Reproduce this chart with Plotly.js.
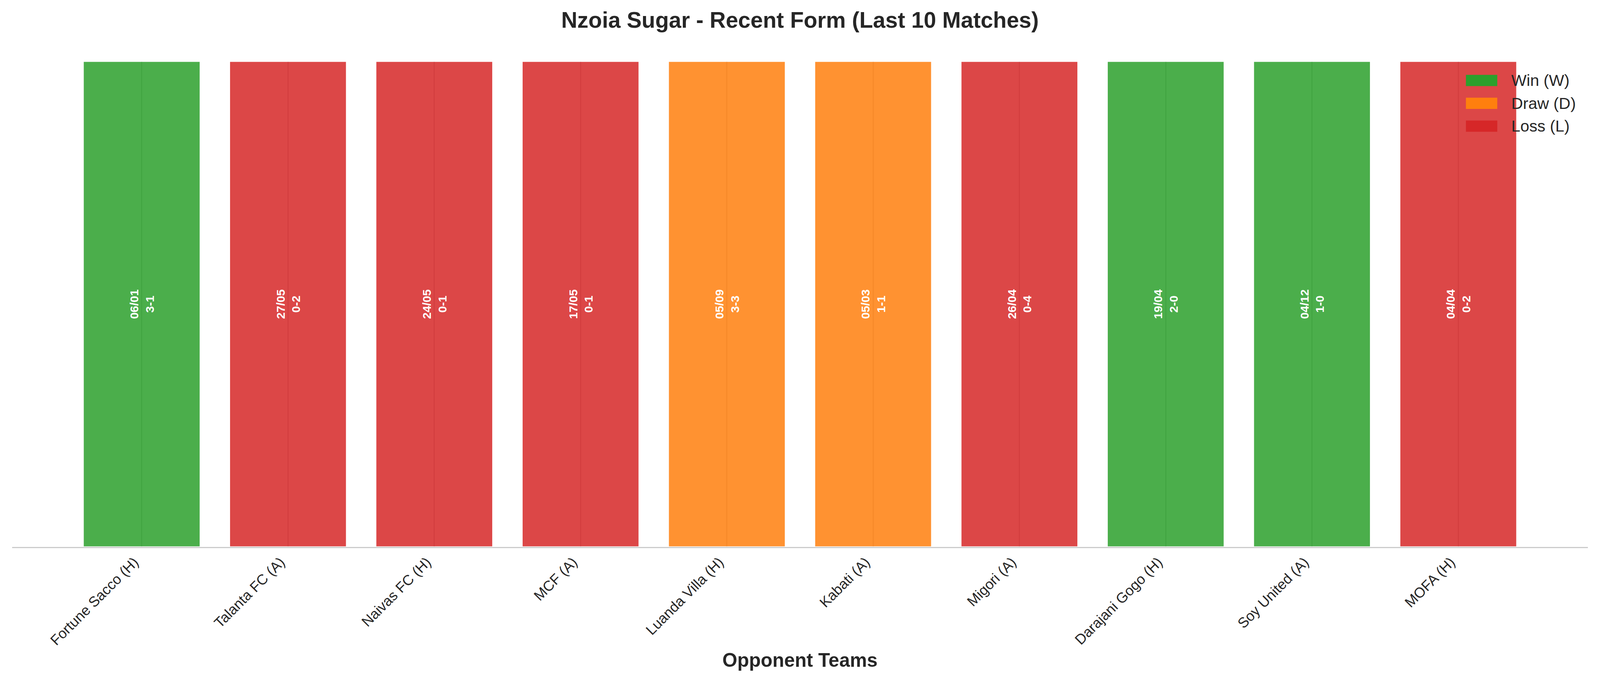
<!DOCTYPE html>
<html>
<head>
<meta charset="utf-8">
<script src="https://cdn.plot.ly/plotly-3.0.1.min.js"></script>
<style>
  html, body { margin: 0; padding: 0; background: #fff; overflow: hidden; }
</style>
</head>
<body>
<div id="chart"></div>
<script>
// last 10 matches, in the order shown on the original chart
const teams = ['Fortune Sacco (H)', 'Talanta FC (A)', 'Naivas FC (H)', 'MCF (A)', 'Luanda Villa (H)',
               'Kabati (A)', 'Migori (A)', 'Darajani Gogo (H)', 'Soy United (A)', 'MOFA (H)'];
const dates = ['06/01', '27/05', '24/05', '17/05', '05/09', '05/03', '26/04', '19/04', '04/12', '04/04'];
const scores = ['3-1', '0-2', '0-1', '0-1', '3-3', '1-1', '0-4', '2-0', '1-0', '0-2'];
const results = ['W', 'L', 'L', 'L', 'D', 'D', 'L', 'W', 'W', 'L'];
const heights = [1, 1, 1, 1, 1, 1, 1, 1, 1, 1];

const legendKeys = ['W', 'D', 'L'];
const legendNames = ['Win (W)', 'Draw (D)', 'Loss (L)'];
const colors = { W: '#2ca02c', D: '#ff7f0e', L: '#d62728' };

const FONT = 'Liberation Sans, Arial, Helvetica, sans-serif';
const TXT = '#262626';

// sized for 4170 x 1770, scaled uniformly to the viewport width
const W = window.innerWidth || 4170;
const s = W / 4170;
const H = Math.round(1770 * s);
const px = v => Math.round(v * s * 10) / 10;

// bar labels: date on top line, score below
const labels = [];
for (let i = 0; i < teams.length; i++) {
  labels.push(dates[i] + '<br>' + scores[i]);
}

const trace = {
  type: 'bar',
  x: teams,
  y: heights,
  width: 0.8,
  text: labels,
  textposition: 'inside',
  insidetextanchor: 'middle',
  textangle: -90,
  insidetextfont: { family: FONT, size: px(31), color: '#ffffff', weight: 'bold' },
  marker: {
    color: results.map(r => colors[r]),
    opacity: 0.85,
    line: { color: '#ffffff', width: px(3) }
  },
  hoverinfo: 'x',
  showlegend: false
};

// legend drawn as patches + labels in the top right corner
const shapes = [];
const annotations = [];
const legTop = 0.9605, legStep = 0.0470, halfH = 0.0115;
for (let k = 0; k < legendKeys.length; k++) {
  const yc = legTop - k * legStep;
  shapes.push({
    type: 'rect', xref: 'paper', yref: 'paper',
    x0: 0.9226, x1: 0.9425, y0: yc - halfH, y1: yc + halfH,
    fillcolor: colors[legendKeys[k]], line: { width: 0 }, layer: 'above'
  });
  annotations.push({
    xref: 'paper', yref: 'paper', x: 0.9508, y: yc,
    xanchor: 'left', yanchor: 'middle', showarrow: false,
    text: legendNames[k],
    font: { family: FONT, size: px(42), color: TXT }
  });
}

const layout = {
  width: W,
  height: H,
  margin: { l: px(32), r: px(32), t: px(160), b: px(344), pad: 0 },
  paper_bgcolor: '#ffffff',
  plot_bgcolor: '#ffffff',
  font: { family: FONT, color: TXT },
  title: {
    text: 'Nzoia Sugar - Recent Form (Last 10 Matches)',
    font: { family: FONT, size: px(58), color: TXT, weight: 'bold' },
    x: 0.5, xanchor: 'center',
    y: 0.9706, yanchor: 'middle', yref: 'container'
  },
  xaxis: {
    type: 'category',
    range: [-0.886, 9.886],
    tickangle: -45,
    ticks: '',
    ticklabelshift: -Math.round(19 * s),   // integer only
    tickfont: { family: FONT, size: px(37.5), color: TXT },
    showgrid: true,
    gridcolor: '#cccccc',
    gridwidth: px(3),
    zeroline: false,
    showline: true,
    linecolor: '#cccccc',
    linewidth: px(3),
    automargin: false,
    title: {
      text: 'Opponent Teams',
      font: { family: FONT, size: px(50), color: TXT, weight: 'bold' },
      standoff: px(14)
    }
  },
  yaxis: {
    range: [0, 1],
    showgrid: false,
    zeroline: false,
    showticklabels: false,
    showline: false,
    ticks: ''
  },
  shapes: shapes,
  annotations: annotations,
  bargap: 0.2
};

Plotly.newPlot('chart', [trace], layout, { displayModeBar: false, staticPlot: true });
</script>
</body>
</html>
